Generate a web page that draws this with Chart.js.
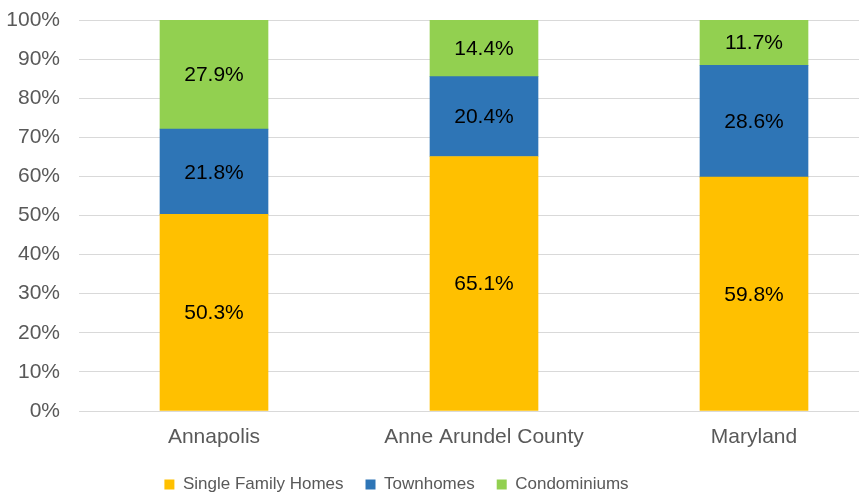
<!DOCTYPE html>
<html>
<head>
<meta charset="utf-8">
<script src="https://cdn.jsdelivr.net/npm/chart.js@4.4.1/dist/chart.umd.min.js"></script>
<style>
  html, body { margin: 0; padding: 0; background: #fff; overflow: hidden; }
  #wrap { width: 859px; height: 495px; overflow: hidden; }
</style>
</head>
<body>
<div id="wrap"><canvas id="housing-chart" width="890" height="495"></canvas></div>
<script>
// share of housing units by type
const places = ["Annapolis", "Anne Arundel County", "Maryland"];
const singleFamily = [50.3, 65.1, 59.8];
const townhomes = [21.8, 20.4, 28.6];
const condos = [27.9, 14.4, 11.7];
const yTicks = [0, 10, 20, 30, 40, 50, 60, 70, 80, 90, 100];

const fontFam = "'Liberation Sans', Arial, sans-serif";

// writes the % value in the middle of each bar piece
const barLabels = {
    id: "barLabels",
    afterDatasetsDraw(chart) {
        const ctx = chart.ctx;
        ctx.save();
        ctx.font = "21px " + fontFam;
        ctx.fillStyle = "#000";
        ctx.textAlign = "center";
        ctx.textBaseline = "middle";
        chart.data.datasets.forEach((ds, i) => {
            chart.getDatasetMeta(i).data.forEach((bar, j) => {
                const p = bar.getCenterPoint();
                ctx.fillText(ds.data[j].toFixed(1) + "%", p.x, p.y + 1);
            });
        });
        ctx.restore();
    }
};

// the legend sits a bit left of the canvas middle in the original
const moveLegend = {
    id: "moveLegend",
    afterLayout(chart) {
        const lg = chart.legend;
        lg.left -= 48;
        lg.right -= 48;
        lg.top = 454;
    }
};

const dataObj = {
    labels: places,
    datasets: [
        { label: "Single Family Homes", data: singleFamily, backgroundColor: "#FFC000" },
        { label: "Townhomes", data: townhomes, backgroundColor: "#2E75B6" },
        { label: "Condominiums", data: condos, backgroundColor: "#92D050" }
    ]
};

new Chart("housing-chart", {
    type: "bar",
    data: dataObj,
    plugins: [barLabels, moveLegend],
    options: {
        responsive: false,
        animation: false,
        layout: { padding: { top: 20, right: 1, bottom: -9, left: 0 } },
        datasets: { bar: { barThickness: 108 } },
        scales: {
            x: {
                stacked: true,
                grid: { display: false },
                border: { display: false },
                ticks: { color: "#595959", font: { family: fontFam, size: 21 }, padding: 6 },
                afterFit(scale) { scale.height = 44; }
            },
            y: {
                stacked: true,
                min: 0,
                max: 100,
                afterBuildTicks(scale) { scale.ticks = yTicks.map(v => ({ value: v })); },
                grid: { color: "#D9D9D9", lineWidth: 1, drawTicks: true, tickLength: 19, tickColor: "rgba(0,0,0,0)" },
                border: { display: false },
                ticks: {
                    color: "#595959",
                    font: { family: fontFam, size: 21 },
                    padding: 0,
                    callback: v => v + "%"
                },
                afterFit(scale) { scale.width = 79; }
            }
        },
        plugins: {
            legend: {
                position: "bottom",
                labels: {
                    boxWidth: 10,
                    boxHeight: 10,
                    padding: 22,
                    color: "#595959",
                    font: { family: fontFam, size: 17 }
                }
            },
            tooltip: { enabled: false }
        }
    }
});
</script>
</body>
</html>
